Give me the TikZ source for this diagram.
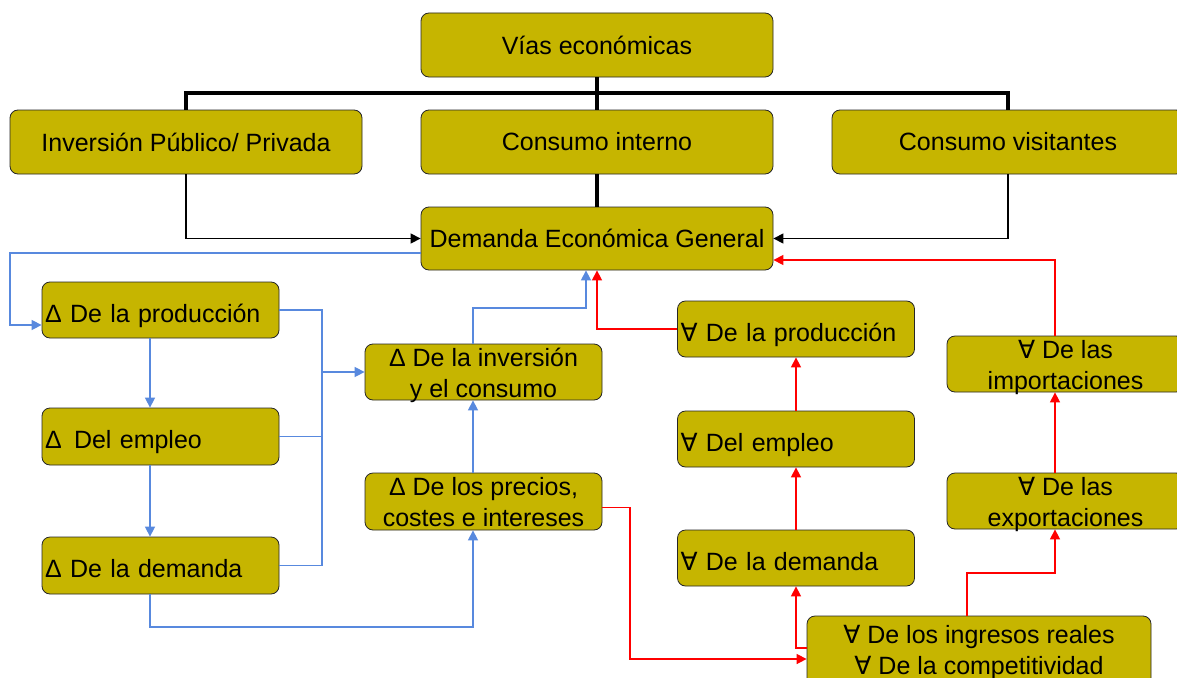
\documentclass[tikz,border=0pt]{standalone}
\usepackage{fontspec}
\setmainfont{Liberation Sans}
\newfontfamily\symf{DejaVu Sans}
\usetikzlibrary{arrows.meta,calc}
\definecolor{boxfill}{RGB}{198,181,0}
\definecolor{bluel}{RGB}{88,137,222}
\newcommand\topstrut{\rule{0pt}{30pt}}
\newcommand\botstrut{\rule[-6pt]{0pt}{6pt}}
\begin{document}
\begin{tikzpicture}[x=1pt,y=-1pt,
  box/.style={draw=black!85, line width=0.8pt, fill=boxfill, rounded corners=8pt, inner sep=3pt,
    font=\fontsize{25}{31}\selectfont, align=center},
  widebox/.style={box, minimum width=352pt, minimum height=64pt},
  sbox/.style={box, minimum width=237pt, minimum height=56pt},
  twobox/.style={sbox, text height=50pt, text depth=0pt},
  lbox/.style={sbox, text width=231pt, align=left},
  tip/.style={-{Triangle[length=10pt,width=10pt]}},
  blk/.style={line width=3.5pt, black},
  thinblk/.style={line width=1.3pt, black, tip},
  bline/.style={line width=1.5pt, bluel},
  rline/.style={line width=1.5pt, red},
]
\useasboundingbox (0,0) rectangle (1177,677);
\fill[white] (0,0) rectangle (1177,677);

% nodes
\node[widebox] (via) at (597,45) {Vías económicas};
\node[widebox] (inv) at (186,142) {Inversión Público/ Privada};
\node[widebox] (cin) at (597,142) {Consumo interno};
\node[widebox] (cvis) at (1008,142) {Consumo visitantes};
\node[widebox, minimum height=63pt] (dem) at (597,238.5) {Demanda Económica General};

\node[lbox] (dprod) at (160.5,310) {\topstrut Δ De la producción\botstrut};
\node[lbox, minimum height=57pt] (demp) at (160.5,436.5) {\topstrut Δ\hspace{4pt} Del empleo\botstrut};
\node[lbox, minimum height=57pt] (ddem) at (160.5,565.5) {\topstrut Δ De la demanda\botstrut};

\node[twobox] (dinv) at (483.5,372) {Δ De la inversión\\y el consumo};
\node[twobox, minimum height=57pt] (dpre) at (483.5,501.5) {Δ De los precios,\\costes e intereses};

\node[lbox] (aprod) at (796,329) {\topstrut{\symf ∀} De la producción\botstrut};
\node[lbox] (aemp) at (796,439) {\topstrut{\symf ∀} Del empleo\botstrut};
\node[lbox] (adem) at (796,558) {\topstrut{\symf ∀} De la demanda\botstrut};
\node[box, minimum width=344pt, minimum height=72pt] (aing) at (979,652)
  {{\symf ∀} De los ingresos reales\\{\symf ∀} De la competitividad};
\node[twobox] (aimp) at (1065.5,364) {{\symf ∀} De las\\importaciones};
\node[twobox] (aexp) at (1065.5,501) {{\symf ∀} De las\\exportaciones};

% coordinates
\coordinate (busL) at (186,93);
\coordinate (busR) at (1008,93);
\coordinate (bl) at (10,325);
\coordinate (bx) at (150,0);
\coordinate (bj) at (322,372);
\coordinate (bm) at (473,627);
\coordinate (bu) at (586,308);
\coordinate (rc) at (630,659);
\coordinate (rd) at (796,648);
\coordinate (re) at (967,573);
\coordinate (rx) at (1055,0);
\coordinate (rt) at (1055,260);

% black
\draw[blk] (via.south) -- (cin.north);
\draw[blk] (inv.north) -- (busL) -- (busR) -- (cvis.north);
\draw[blk] (cin.south) -- (dem.north);
\draw[thinblk] (inv.south) |- (dem.west);
\draw[thinblk] (cvis.south) |- (dem.east);

% blue
\draw[bline, tip] ($(dem.west)+(0,14.5)$) -| (bl) -- (dprod.west |- bl);
\draw[bline, tip] (dprod.south -| bx) -- (demp.north -| bx);
\draw[bline, tip] (demp.south -| bx) -- (ddem.north -| bx);
\draw[bline] (dprod.east) -| (bj);
\draw[bline] (demp.east) -| (bj);
\draw[bline] (ddem.east) -| (bj);
\draw[bline, tip] (bj) -- (dinv.west);
\draw[bline, tip] (ddem.south -| bx) |- (bm) -- (dpre.south -| bm);
\draw[bline, tip] (dpre.north -| bm) -- (dinv.south -| bm);
\draw[bline, tip] (dinv.north -| bm) |- (bu) -- (dem.south -| bu);

% red
\draw[rline, tip] (aprod.west) -| (dem.south);
\draw[rline, tip] ($(dpre.east)+(0,6)$) -| (rc) -- (aing.west |- rc);
\draw[rline, tip] (aing.west |- rd) -- (rd) -- (adem.south);
\draw[rline, tip] (adem.north) -- (aemp.south);
\draw[rline, tip] (aemp.north) -- (aprod.south);
\draw[rline, tip] (aing.north -| re) -- (re) -| (aexp.south -| rx);
\draw[rline, tip] (aexp.north -| rx) -- (aimp.south -| rx);
\draw[rline, tip] (aimp.north -| rt) -- (rt) -- (dem.east |- rt);
\end{tikzpicture}
\end{document}
